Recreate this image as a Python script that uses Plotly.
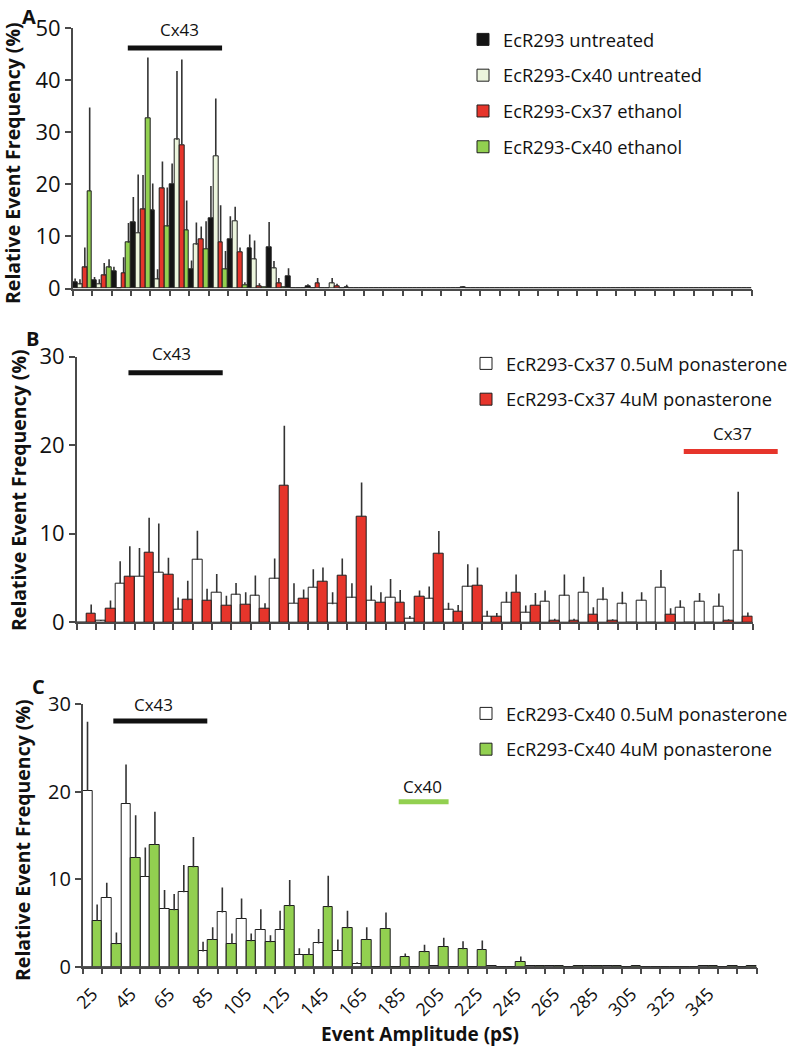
import plotly.graph_objects as go

# ---------------- data ----------------
categories = [25, 35, 45, 55, 65, 75, 85, 95, 105, 115, 125, 135, 145, 155, 165, 175, 185, 195,
              205, 215, 225, 235, 245, 255, 265, 275, 285, 295, 305, 315, 325, 335, 345, 355, 365]
tick_vals = [25, 45, 65, 85, 105, 125, 145, 165, 185, 205, 225, 245, 265, 285, 305, 325, 345]
tick_text = ["25", "45", "65", "85", "105", "125", "145", "165", "185", "205", "225", "245",
             "265", "285", "305", "325", "345"]
boundaries = [20, 30, 40, 50, 60, 70, 80, 90, 100, 110, 120, 130, 140, 150, 160, 170, 180, 190,
              200, 210, 220, 230, 240, 250, 260, 270, 280, 290, 300, 310, 320, 330, 340, 350, 360, 370]

# Panel A
a_untreated = [1.2, 1.6, 3.3, 12.7, 15.0, 20.1, 3.7, 13.5, 9.5, 7.8, 7.9, 2.4, 0.45, 0, 0.3, 0, 0, 0,
               0, 0, 0.3, 0, 0, 0, 0, 0, 0, 0, 0, 0, 0, 0, 0, 0, 0]
a_untreated_err = [0.7, 0.6, 0.9, 4.9, 5.2, 3.9, 1.7, 6.2, 4.4, 2.6, 4.9, 1.5, 0.35, 0, 0.4, 0, 0, 0,
                   0, 0, 0.2, 0, 0, 0, 0, 0, 0, 0, 0, 0, 0, 0, 0, 0, 0]
a_cx40_untreated = [0.8, 0.9, 0, 10.7, 1.8, 28.6, 8.4, 25.5, 13.0, 5.6, 3.9, 0, 0, 1.0, 0, 0, 0, 0,
                    0, 0, 0, 0, 0, 0, 0, 0, 0, 0, 0, 0, 0, 0, 0, 0, 0]
a_cx40_untreated_err = [1.0, 0.9, 0, 11.2, 1.9, 13.2, 4.3, 11.0, 2.7, 3.6, 1.4, 0, 0, 1.0, 0, 0, 0, 0,
                        0, 0, 0, 0, 0, 0, 0, 0, 0, 0, 0, 0, 0, 0, 0, 0, 0]
a_cx37_ethanol = [4.0, 2.5, 3.0, 15.2, 19.2, 27.6, 9.5, 8.9, 7.0, 0.4, 1.0, 0, 1.0, 0.5, 0, 0, 0, 0,
                  0, 0, 0, 0, 0, 0, 0, 0, 0, 0, 0, 0, 0, 0, 0, 0, 0]
a_cx37_ethanol_err = [3.9, 2.4, 3.0, 6.6, 5.2, 16.4, 2.4, 7.1, 0.9, 0.6, 1.0, 0, 1.0, 0.4, 0, 0, 0, 0,
                      0, 0, 0, 0, 0, 0, 0, 0, 0, 0, 0, 0, 0, 0, 0, 0, 0]
a_cx40_ethanol = [18.7, 4.0, 8.8, 32.8, 11.9, 11.2, 7.6, 3.7, 0.7, 0.2, 0.2, 0, 0, 0, 0, 0, 0, 0,
                  0, 0, 0, 0, 0, 0, 0, 0, 0, 0, 0, 0, 0, 0, 0, 0, 0]
a_cx40_ethanol_err = [16.1, 1.6, 3.8, 11.6, 7.5, 5.7, 5.3, 3.5, 0.5, 0, 0.1, 0, 0, 0, 0, 0, 0, 0,
                      0, 0, 0, 0, 0, 0, 0, 0, 0, 0, 0, 0, 0, 0, 0, 0, 0]

# Panel B
b_low = [0, 0.15, 4.4, 5.2, 5.65, 1.45, 7.05, 3.4, 3.1, 3.0, 4.9, 2.15, 3.95, 2.05, 2.75, 2.45, 2.8, 0.4,
         2.7, 1.4, 4.0, 0.65, 2.25, 1.1, 2.35, 3.0, 3.4, 2.5, 2.05, 2.45, 3.95, 1.65, 2.35, 1.8, 8.1]
b_low_err = [0, 0.1, 2.5, 3.2, 5.5, 1.35, 3.3, 2.05, 1.35, 2.3, 2.3, 2.25, 2.05, 1.35, 1.65, 1.7, 2.1, 0.3,
             1.35, 0.8, 2.55, 0.65, 1.2, 0.8, 1.25, 2.4, 1.75, 1.45, 1.4, 0.95, 1.95, 0.85, 0.95, 1.45, 6.65]
b_high = [1.0, 1.5, 5.1, 7.9, 5.35, 2.5, 2.4, 1.9, 2.0, 1.5, 15.45, 2.7, 4.55, 5.3, 11.9, 2.2, 2.25, 2.85,
          7.7, 1.25, 4.1, 0.6, 3.4, 1.9, 0.2, 0.2, 0.85, 0.2, 0, 0, 0.9, 0, 0, 0.2, 0.65]
b_high_err = [1.0, 0.95, 3.5, 3.9, 1.95, 2.2, 1.4, 1.1, 1.4, 0.65, 6.75, 1.0, 1.65, 1.9, 3.9, 1.2, 1.4, 0.75,
              2.6, 0.7, 2.1, 0.45, 2.0, 1.4, 0.2, 0.2, 0.85, 0.15, 0, 0, 0.7, 0, 0, 0.15, 0.45]

# Panel C
c_low = [20.06, 7.9, 18.6, 10.25, 6.6, 8.5, 1.75, 6.2, 5.5, 4.2, 4.2, 1.35, 2.65, 1.85, 0.3, 0, 0, 0,
         0.1, 0, 0, 0.1, 0, 0.1, 0.1, 0, 0.05, 0.1, 0, 0, 0, 0, 0.05, 0, 0]
c_low_err = [7.9, 1.7, 4.5, 3.35, 2.15, 3.1, 1.1, 2.85, 2.3, 2.35, 2.2, 0.75, 1.65, 1.25, 0.2, 0, 0, 0,
             0, 0, 0, 0, 0, 0, 0, 0, 0, 0, 0, 0, 0, 0, 0, 0, 0]
c_high = [5.25, 2.55, 12.4, 13.9, 6.45, 11.35, 3.05, 2.6, 2.9, 2.8, 6.9, 1.35, 6.8, 4.4, 3.1, 4.35, 1.15, 1.65,
          2.3, 2.0, 1.9, 0, 0.57, 0.05, 0.08, 0.1, 0.05, 0.08, 0.05, 0, 0, 0, 0.05, 0.08, 0.08]
c_high_err = [1.85, 1.35, 4.9, 3.8, 1.85, 3.45, 1.45, 1.2, 0.9, 0.8, 3.0, 0.75, 3.6, 2.0, 1.4, 1.85, 0.35, 0.85,
              1.0, 0.9, 1.1, 0, 0.6, 0, 0, 0, 0, 0, 0, 0, 0, 0, 0, 0, 0]

# ---------------- style ----------------
FONT = "Open Sans"
W, H = 791, 1050
OUTLINE = "#1e1e1e"
ERRC = "#333333"
C_BLACK = "#141414"
C_LIGHT = "#ecf5dd"
C_RED = "#e6352b"
C_GREEN = "#92d050"
C_WHITE = "#ffffff"


def px(x):
    return x / W


def py(y):
    return 1 - y / H


def bar(name, vals, errs, color, xa, ya, legend):
    return go.Bar(
        name=name, x=categories, y=vals, xaxis=xa, yaxis=ya, legend=legend, legendgroup=name,
        marker=dict(color=color, line=dict(color=OUTLINE, width=1)),
        error_y=dict(type="data", array=errs, arrayminus=[0] * len(errs), symmetric=False,
                     width=0, thickness=1.6, color=ERRC),
    )


fig = go.Figure()
fig.add_trace(bar("EcR293 untreated", a_untreated, a_untreated_err, C_BLACK, "x", "y", "legend"))
fig.add_trace(bar("EcR293-Cx40 untreated", a_cx40_untreated, a_cx40_untreated_err, C_LIGHT, "x", "y", "legend"))
fig.add_trace(bar("EcR293-Cx37 ethanol", a_cx37_ethanol, a_cx37_ethanol_err, C_RED, "x", "y", "legend"))
fig.add_trace(bar("EcR293-Cx40 ethanol", a_cx40_ethanol, a_cx40_ethanol_err, C_GREEN, "x", "y", "legend"))
fig.add_trace(bar("EcR293-Cx37 0.5uM ponasterone", b_low, b_low_err, C_WHITE, "x2", "y2", "legend2"))
fig.add_trace(bar("EcR293-Cx37 4uM ponasterone", b_high, b_high_err, C_RED, "x2", "y2", "legend2"))
fig.add_trace(bar("EcR293-Cx40 0.5uM ponasterone", c_low, c_low_err, C_WHITE, "x3", "y3", "legend3"))
fig.add_trace(bar("EcR293-Cx40 4uM ponasterone", c_high, c_high_err, C_GREEN, "x3", "y3", "legend3"))

AXC = "#4a4a4a"


def xaxis(dom, anchor, labels):
    return dict(
        domain=dom, anchor=anchor, range=[20, 370], showgrid=False, zeroline=False,
        showline=True, linecolor=AXC, linewidth=1.5, automargin=False,
        tickmode="array", tickvals=tick_vals, ticktext=tick_text, showticklabels=labels,
        ticks="outside", ticklen=0, tickangle=-45, ticklabelstandoff=8,
        tickfont=dict(family=FONT, size=18, color="#111"),
        minor=dict(tickmode="array", tickvals=boundaries, ticks="outside", ticklen=6,
                   tickwidth=1.5, tickcolor=AXC, showgrid=False),
    )


def yaxis(dom, anchor, rng, size):
    return dict(
        domain=dom, anchor=anchor, range=rng, dtick=10, showgrid=False, zeroline=False,
        showline=True, linecolor=AXC, linewidth=1.5, ticks="outside", ticklen=6, automargin=False,
        tickwidth=1.5, tickcolor=AXC, tickfont=dict(family=FONT, size=size, color="#111"),
    )


legend_common = dict(xanchor="left", yanchor="top", bgcolor="rgba(0,0,0,0)",
                     font=dict(family=FONT, size=18.3, color="#111"), tracegroupgap=9,
                     itemclick=False, itemdoubleclick=False)

fig.update_layout(
    width=W, height=H, margin=dict(l=0, r=0, t=0, b=0, autoexpand=False),
    paper_bgcolor="white", plot_bgcolor="white",
    barmode="group", bargap=0, bargroupgap=0,
    font=dict(family=FONT, color="#111"),
    xaxis=xaxis([px(72.7), px(751.7)], "y", False),
    yaxis=yaxis([py(288.5), py(28.3)], "x", [0, 50], 22),
    xaxis2=xaxis([px(76.7), px(752.7)], "y2", False),
    yaxis2=yaxis([py(622.3), py(356.7)], "x2", [0, 30], 22),
    xaxis3=xaxis([px(82.7), px(756.7)], "y3", True),
    yaxis3=yaxis([py(966.7), py(704)], "x3", [0, 30], 20),
    legend=dict(x=px(463), y=py(21), **legend_common),
    legend2=dict(x=px(466), y=py(345), **legend_common),
    legend3=dict(x=px(466), y=py(695), **legend_common),
    showlegend=True,
)

# marker lines for connexin conductance ranges
shapes = [
    dict(type="line", xref="x", yref="y", x0=48.4, x1=97, y0=46.2, y1=46.2,
         line=dict(color="#111", width=5)),
    dict(type="line", xref="x2", yref="y2", x0=46.8, x1=95.6, y0=28.2, y1=28.2,
         line=dict(color="#111", width=5)),
    dict(type="line", xref="x2 domain", yref="y2 domain", x0=0.898, x1=1.037, y0=0.643, y1=0.643,
         line=dict(color=C_RED, width=5)),
    dict(type="line", xref="x3", yref="y3", x0=35.9, x1=84.7, y0=28.06, y1=28.06,
         line=dict(color="#111", width=5)),
    dict(type="line", xref="x3", yref="y3", x0=184.1, x1=210, y0=18.84, y1=18.84,
         line=dict(color=C_GREEN, width=5)),
]
fig.update_layout(shapes=shapes)

ann = []
lab = dict(family=FONT, size=17, color="#111")
mid = dict(showarrow=False, font=lab, xanchor="center", yanchor="middle")
ann.append(dict(text="Cx43", xref="x", yref="y domain", x=74.8, y=49.7 / 50, **mid))
ann.append(dict(text="Cx43", xref="x2", yref="y2 domain", x=69.3, y=30.4 / 30, **mid))
ann.append(dict(text="Cx37", xref="x2", yref="y2 domain", x=359.4, y=21.35 / 30, **mid))
ann.append(dict(text="Cx43", xref="x3", yref="y3 domain", x=57, y=29.9 / 30, **mid))
ann.append(dict(text="Cx40", xref="x3", yref="y3 domain", x=196.4, y=20.55 / 30, **mid))

bold = dict(family=FONT, size=19.5, color="#111", weight="bold")
for xc, yc in [(13, 163), (18, 490), (22, 840)]:
    ann.append(dict(text="Relative Event Frequency (%)", xref="paper", yref="paper",
                    x=px(xc), y=py(yc), textangle=-90, showarrow=False, font=bold,
                    xanchor="center", yanchor="middle"))
ann.append(dict(text="Event Amplitude (pS)", xref="paper", yref="paper", x=px(420), y=py(1034),
                showarrow=False, font=dict(family=FONT, size=19, color="#111", weight="bold"),
                xanchor="center", yanchor="middle"))
letter = dict(family=FONT, size=20, color="#111", weight="bold")
for t, xc, yc in [("A", 29, 16), ("B", 32, 338), ("C", 38, 686)]:
    ann.append(dict(text=t, xref="paper", yref="paper", x=px(xc), y=py(yc), showarrow=False,
                    font=letter, xanchor="center", yanchor="middle"))
fig.update_layout(annotations=ann)

fig.write_html("out.html", config={"displayModeBar": False},
               post_script="document.body.style.margin='0px';")
